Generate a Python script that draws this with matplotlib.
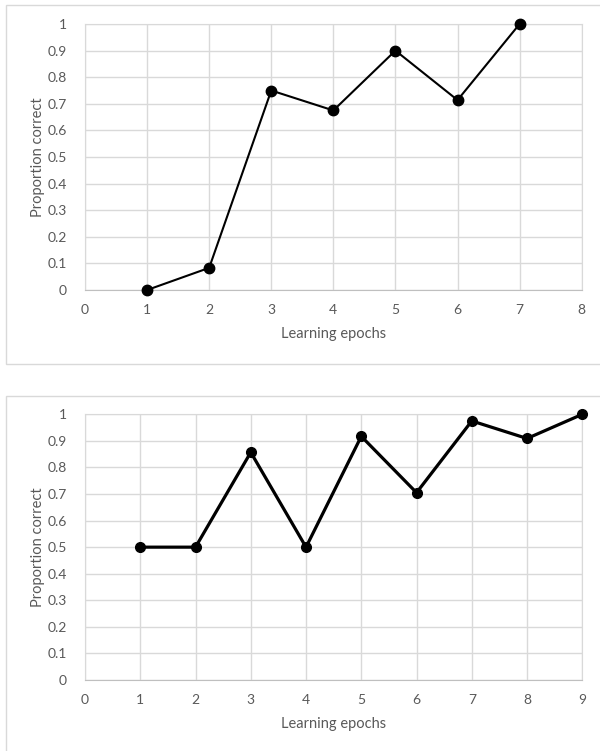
import matplotlib
matplotlib.use("Agg")
import matplotlib.pyplot as plt
from matplotlib.patches import Rectangle

# Learning curves: proportion correct per learning epoch
epochs_a = [1, 2, 3, 4, 5, 6, 7]
correct_a = [0.0, 0.0833, 0.75, 0.675, 0.9, 0.714, 1.0]

epochs_b = [1, 2, 3, 4, 5, 6, 7, 8, 9]
correct_b = [0.5, 0.5, 0.857, 0.5, 0.917, 0.705, 0.975, 0.909, 1.0]

y_ticks = [0, 0.1, 0.2, 0.3, 0.4, 0.5, 0.6, 0.7, 0.8, 0.9, 1]
y_tick_labels = ["0", "0.1", "0.2", "0.3", "0.4", "0.5", "0.6", "0.7", "0.8", "0.9", "1"]

plt.rcParams["font.family"] = ["Lato", "DejaVu Sans"]

W, H = 600, 751
fig = plt.figure(figsize=(W / 100, H / 100), dpi=100)

GRID = "#d9d9d9"
TEXT = "#595959"


def px_axes(left, top, right, bottom):
    return fig.add_axes([left / W, 1 - bottom / H, (right - left) / W, (bottom - top) / H])


def panel_border(x0, y0, x1, y1):
    fig.patches.append(Rectangle((x0 / W, 1 - y1 / H), (x1 - x0) / W, (y1 - y0) / H,
                                 transform=fig.transFigure, fill=False,
                                 edgecolor=GRID, linewidth=1.0, zorder=0))


def style(ax, xmax):
    ax.set_xlim(0, xmax)
    ax.set_ylim(0, 1)
    ax.set_xticks(range(0, xmax + 1))
    ax.set_yticks(y_ticks)
    ax.set_yticklabels(y_tick_labels)
    ax.grid(True, color=GRID, linewidth=1.0)
    ax.set_axisbelow(True)
    for side in ["top", "right", "left"]:
        ax.spines[side].set_color(GRID)
    ax.spines["bottom"].set_color("#bfbfbf")
    ax.tick_params(length=0, labelsize=10, colors=TEXT)
    ax.tick_params(axis="x", pad=10)
    ax.tick_params(axis="y", pad=13)
    ax.set_xlabel("Learning epochs", fontsize=10.5, color=TEXT, labelpad=8)
    ax.set_ylabel("Proportion correct", fontsize=10.5, color=TEXT, labelpad=2)
    for s in ax.spines.values():
        s.set_clip_on(False)


panel_border(6, 5, 601, 364)
panel_border(6, 396, 601, 760)

ax1 = px_axes(85, 24, 581.7, 290)
style(ax1, 8)
ax1.plot(epochs_a, correct_a, color="black", linewidth=1.5, marker="o",
         markersize=7.5, clip_on=False, zorder=3)

ax2 = px_axes(85, 414.3, 582.3, 680)
style(ax2, 9)
ax2.plot(epochs_b, correct_b, color="black", linewidth=2.3, marker="o",
         markersize=7, clip_on=False, zorder=3)

fig.savefig("out.png", dpi=100)
